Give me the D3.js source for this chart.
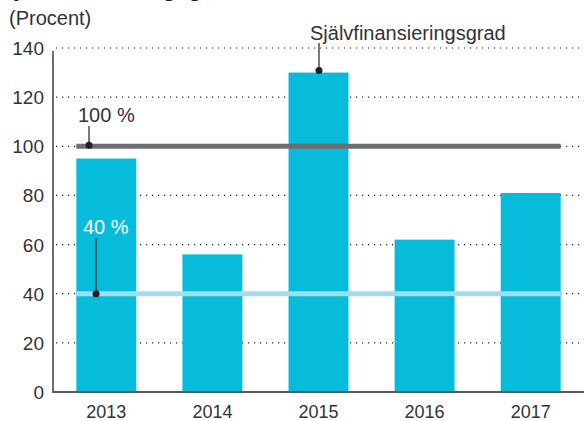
<!DOCTYPE html>
<html>
<head>
<meta charset="utf-8">
<script src="https://cdn.jsdelivr.net/npm/d3@7"></script>
<style>
  body { margin: 0; background: #fff; }
  text { font-family: "Liberation Sans", Arial, sans-serif; }
</style>
</head>
<body>
<div class="root"></div>
<script>
var years = ['2013', '2014', '2015', '2016', '2017'];
var values = [95, 56, 130, 62, 81];
var yTicks = [0, 20, 40, 60, 80, 100, 120, 140];
var refValues = [100, 40];
var refLabels = ['100 %', '40 %'];

var w = 584, h = 421;
var plotLeft = 53, plotRight = 584, plotTop = 48, plotBottom = 392;

var svg = d3.select('.root')
            .append('svg')
            .attr('width', w)
            .attr('height', h);

var x = d3.scaleBand()
          .domain(years)
          .range([plotLeft, plotRight])
          .paddingInner(0.435)
          .paddingOuter(0.22);

var y = d3.scaleLinear()
          .domain([0, 140])
          .range([plotBottom, plotTop]);

// cut-off title at the very top
svg.append('text')
  .text('Självfinansieringsgrad')
  .attr('x', 0)
  .attr('y', -4)
  .attr('font-size', 22)
  .attr('font-weight', 'bold')
  .attr('fill', '#231f20');

svg.append('text')
  .text('(Procent)')
  .attr('x', 9)
  .attr('y', 25)
  .attr('font-size', 20)
  .attr('fill', '#333');

// dotted gridlines
svg.append('g')
  .selectAll('line')
    .data(yTicks.filter(function(d) { return d > 0; }))
    .enter().append('line')
      .attr('x1', plotLeft + 3)
      .attr('x2', plotRight)
      .attr('y1', function(d) { return y(d); })
      .attr('y2', function(d) { return y(d); })
      .attr('stroke', '#231f20')
      .attr('stroke-width', 1.2)
      .attr('stroke-dasharray', '1.2,4.8');

// y tick labels
svg.append('g')
  .selectAll('text')
    .data(yTicks)
    .enter().append('text')
      .text(function(d) { return d; })
      .attr('x', 44)
      .attr('y', function(d) { return y(d) + 7; })
      .attr('text-anchor', 'end')
      .attr('font-size', 19)
      .attr('fill', '#333');

// bars
svg.append('g')
  .selectAll('rect')
    .data(values)
    .enter().append('rect')
      .attr('x', function(d, i) { return x(years[i]); })
      .attr('y', function(d) { return y(d); })
      .attr('width', x.bandwidth())
      .attr('height', function(d) { return y(0) - y(d); })
      .attr('fill', '#07bbda');

// reference lines
var refColors = ['#6d6e71', '#a3dcec'];
var x0 = x(years[0]), x1 = x(years[years.length - 1]) + x.bandwidth();
svg.append('g')
  .selectAll('line')
    .data(refValues)
    .enter().append('line')
      .attr('x1', x0)
      .attr('x2', x1)
      .attr('y1', function(d) { return y(d); })
      .attr('y2', function(d) { return y(d); })
      .attr('stroke', function(d, i) { return refColors[i]; })
      .attr('stroke-width', 5);

// axes lines
svg.append('line')
  .attr('x1', plotLeft).attr('x2', plotLeft)
  .attr('y1', y(140) + 3).attr('y2', plotBottom)
  .attr('stroke', '#231f20')
  .attr('stroke-width', 1.3);

svg.append('line')
  .attr('x1', plotLeft - 1).attr('x2', plotRight)
  .attr('y1', plotBottom).attr('y2', plotBottom)
  .attr('stroke', '#58595b')
  .attr('stroke-width', 2.2);

// x labels
svg.append('g')
  .selectAll('text')
    .data(years)
    .enter().append('text')
      .text(function(d) { return d; })
      .attr('x', function(d) { return x(d) + x.bandwidth() / 2; })
      .attr('y', 418)
      .attr('text-anchor', 'middle')
      .attr('font-size', 18)
      .attr('fill', '#333');

// annotations: label, stem and dot
var notes = [
  { text: refLabels[0], tx: 78, ty: 122, px: 89, py: y(refValues[0]) - 1, stemTop: 126, fill: '#333' },
  { text: refLabels[1], tx: 83, ty: 234, px: 96, py: y(refValues[1]), stemTop: 238, fill: '#ffffff' },
  { text: 'Självfinansieringsgrad', tx: 310, ty: 40, px: 319, py: y(values[2]) - 2, stemTop: 43, fill: '#333' }
];

var note = svg.append('g')
  .selectAll('g')
    .data(notes)
    .enter().append('g');

note.append('line')
  .attr('x1', function(d) { return d.px; })
  .attr('x2', function(d) { return d.px; })
  .attr('y1', function(d) { return d.stemTop; })
  .attr('y2', function(d) { return d.py; })
  .attr('stroke', '#231f20')
  .attr('stroke-width', 1.2);

note.append('circle')
  .attr('cx', function(d) { return d.px; })
  .attr('cy', function(d) { return d.py; })
  .attr('r', 3.5)
  .attr('fill', '#231f20');

note.append('text')
  .text(function(d) { return d.text; })
  .attr('x', function(d) { return d.tx; })
  .attr('y', function(d) { return d.ty; })
  .attr('font-size', 20)
  .attr('fill', function(d) { return d.fill; });
</script>
</body>
</html>
